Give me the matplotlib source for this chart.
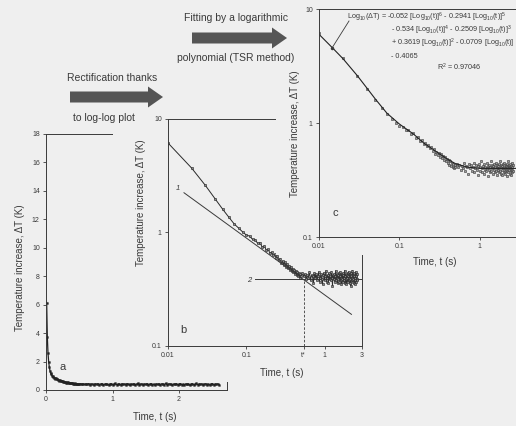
import matplotlib
matplotlib.use('Agg')
import matplotlib.pyplot as plt
from matplotlib.patches import Rectangle, FancyArrow

plt.rcParams['font.family'] = ['Liberation Sans', 'DejaVu Sans']
plt.rcParams['mathtext.fontset'] = 'custom'
plt.rcParams['mathtext.rm'] = 'Liberation Sans'
plt.rcParams['mathtext.it'] = 'Liberation Sans:italic'

t_early = [0.01, 0.02, 0.03, 0.04, 0.05, 0.06, 0.07, 0.08, 0.09, 0.10]
dT_early = [6.15, 3.70, 2.60, 1.98, 1.60, 1.36, 1.19, 1.09, 1.01, 0.95]

t_mid = [0.11, 0.12, 0.13, 0.14, 0.15, 0.16, 0.17, 0.18, 0.19, 0.20,
         0.21, 0.22, 0.23, 0.24, 0.25, 0.26, 0.27, 0.28, 0.29, 0.30,
         0.31, 0.32, 0.33, 0.34, 0.35, 0.36, 0.37, 0.38, 0.39, 0.40,
         0.41, 0.42, 0.43, 0.44, 0.45, 0.46, 0.47, 0.48, 0.49, 0.50]
dT_mid = [0.93, 0.87, 0.86, 0.80, 0.81, 0.74, 0.76, 0.70, 0.71, 0.66,
          0.67, 0.63, 0.64, 0.60, 0.62, 0.57, 0.59, 0.54, 0.56, 0.52,
          0.55, 0.50, 0.53, 0.49, 0.51, 0.47, 0.50, 0.46, 0.48, 0.45,
          0.47, 0.43, 0.46, 0.42, 0.45, 0.41, 0.44, 0.40, 0.43, 0.41]

t_plat = [0.52, 0.54, 0.56, 0.58, 0.60, 0.62, 0.64, 0.66, 0.68, 0.70, 0.72, 0.74, 0.76, 0.78, 0.80,
          0.82, 0.84, 0.86, 0.88, 0.90, 0.92, 0.94, 0.96, 0.98, 1.00, 1.02, 1.04, 1.06, 1.08, 1.10,
          1.12, 1.14, 1.16, 1.18, 1.20, 1.22, 1.24, 1.26, 1.28, 1.30, 1.32, 1.34, 1.36, 1.38, 1.40,
          1.42, 1.44, 1.46, 1.48, 1.50, 1.52, 1.54, 1.56, 1.58, 1.60, 1.62, 1.64, 1.66, 1.68, 1.70,
          1.72, 1.74, 1.76, 1.78, 1.80, 1.82, 1.84, 1.86, 1.88, 1.90, 1.92, 1.94, 1.96, 1.98, 2.00,
          2.02, 2.04, 2.06, 2.08, 2.10, 2.12, 2.14, 2.16, 2.18, 2.20, 2.22, 2.24, 2.26, 2.28, 2.30,
          2.32, 2.34, 2.36, 2.38, 2.40, 2.42, 2.44, 2.46, 2.48, 2.50, 2.52, 2.54, 2.56, 2.58, 2.60]
dT_plat = [0.44, 0.41, 0.43, 0.39, 0.42, 0.40, 0.45, 0.38, 0.42, 0.41, 0.36, 0.44, 0.40, 0.43, 0.38,
           0.41, 0.45, 0.37, 0.40, 0.43, 0.39, 0.35, 0.42, 0.44, 0.38, 0.41, 0.46, 0.37, 0.40, 0.42,
           0.36, 0.44, 0.39, 0.41, 0.38, 0.45, 0.40, 0.34, 0.42, 0.39, 0.43, 0.37, 0.41, 0.46, 0.38,
           0.40, 0.43, 0.36, 0.42, 0.39, 0.44, 0.37, 0.41, 0.45, 0.38, 0.40, 0.35, 0.43, 0.39, 0.42,
           0.37, 0.44, 0.40, 0.38, 0.46, 0.36, 0.41, 0.43, 0.39, 0.35, 0.42, 0.40, 0.44, 0.37, 0.41,
           0.45, 0.38, 0.40, 0.36, 0.43, 0.39, 0.42, 0.34, 0.41, 0.44, 0.38, 0.40, 0.46, 0.37, 0.42,
           0.39, 0.43, 0.36, 0.41, 0.44, 0.38, 0.40, 0.35, 0.42, 0.45, 0.37, 0.41, 0.39, 0.43, 0.38]

t = t_early + t_mid + t_plat
dT = dT_early + dT_mid + dT_plat

# logarithmic polynomial fit drawn in panel c
t_fit = [0.01, 0.015, 0.02, 0.03, 0.04, 0.05, 0.07, 0.1, 0.15, 0.2, 0.3, 0.4,
         0.5, 0.7, 1.0, 1.5, 2.0, 3.0]
dT_fit = [6.0, 4.5, 3.65, 2.6, 2.0, 1.63, 1.22, 0.98, 0.80, 0.67, 0.55, 0.48,
          0.44, 0.41, 0.40, 0.40, 0.40, 0.40]

# straight lines of panel b
line1_t = [0.016, 2.2]
line1_dT = [2.24, 0.19]
t_star = 0.54
dT_plateau = 0.39
line2_t = [0.13, 3.0]

eq_lines = [r'Log$_{10}$(ΔT) = -0.052 [Log$_{10}$(t)]$^{6}$ - 0.2941 [Log$_{10}$(t)]$^{5}$',
            r'- 0.534 [Log$_{10}$(t)]$^{4}$ - 0.2509 [Log$_{10}$(t)]$^{3}$',
            r'+ 0.3619 [Log$_{10}$(t)]$^{2}$ - 0.0709 [Log$_{10}$(t)]',
            '- 0.4065']
r2_text = r'R$^{2}$ = 0.97046'

W, H = 516, 426
INK = '#3a3a3a'
BG = '#efefef'
YLAB = 'Temperature increase, ΔT (K)'
XLAB = 'Time, t (s)'

fig = plt.figure(figsize=(W / 100, H / 100), dpi=100, facecolor=BG)


def box(l, t, r, b):
    # pixel box -> figure fraction rect
    return [l / W, 1 - b / H, (r - l) / W, (b - t) / H]


def style(ax):
    ax.set_facecolor('none')
    for s in ax.spines.values():
        s.set_color(INK)
        s.set_linewidth(0.7)
    ax.tick_params(direction='out', length=2.5, width=0.6, color=INK,
                   labelsize=5, labelcolor=INK, pad=2)
    ax.minorticks_off()


def cover(l, t, r, b, z):
    fig.add_artist(Rectangle((l / W, 1 - b / H), (r - l) / W, (b - t) / H,
                             transform=fig.transFigure, facecolor=BG,
                             edgecolor='none', zorder=z))


# panel a: linear
axa = fig.add_axes(box(46, 134, 227, 390), zorder=1)
axa.plot(t, dT, color='#222', marker='s', ms=1.3, mew=0.3, lw=0.9)
axa.set_xlim(0, 2.72)
axa.set_ylim(0, 18)
axa.set_xticks([0, 1, 2])
axa.set_yticks(range(0, 19, 2))
style(axa)

# panel b: log-log
cover(113, 100, 372, 382, 1.5)
axb = fig.add_axes(box(168, 119, 362, 346), zorder=2)
axb.set_xscale('log')
axb.set_yscale('log')
axb.plot(t, dT, ls='-', lw=0.7, color='#2a2a2a', marker='s', ms=1.6,
         mfc='#8a8a8a', mec='#222', mew=0.4, zorder=2)
axb.plot(line1_t, line1_dT, color=INK, lw=0.7, zorder=3)
axb.plot(line2_t, [dT_plateau, dT_plateau], color=INK, lw=0.7, zorder=1)
axb.plot([t_star, t_star], [0.1, dT_plateau], color=INK, lw=0.6, ls=(0, (3, 2)))
axb.set_xlim(0.01, 3)
axb.set_ylim(0.1, 10)
style(axb)
axb.set_xticks([0.01, 0.1, t_star, 1, 3], ['0.01', '0.1', 't*', '1', '3'])
axb.set_yticks([0.1, 1, 10], ['0.1', '1', '10'])
axb.minorticks_off()

# panel c: log-log with TSR fit
cover(276, 0, W, 255, 2.5)
axc = fig.add_axes(box(319, 9, 518, 237), zorder=3)
axc.set_xscale('log')
axc.set_yscale('log')
axc.plot(t, dT, ls='none', marker='s', ms=1.8, mfc='#a0a0a0',
         mec='#333', mew=0.4)
axc.plot(t_fit, dT_fit, color='#222', lw=0.8)
axc.set_xlim(0.01, 3)
axc.set_ylim(0.1, 10)
style(axc)
axc.set_xticks([0.01, 0.1, 1, 3], ['0.01', '0.1', '1', '3'])
axc.set_yticks([0.1, 1, 10], ['0.1', '1', '10'])
axc.minorticks_off()

# overlay in pixel units for arrows and free text
ov = fig.add_axes([0, 0, 1, 1], zorder=5)
ov.set_xlim(0, W)
ov.set_ylim(H, 0)
ov.axis('off')
ov.patch.set_alpha(0)

for x0, y0, dx in [(192, 38, 95), (70, 97, 93)]:
    ov.add_patch(FancyArrow(x0, y0, dx, 0, width=11, head_width=21,
                            head_length=15, length_includes_head=True,
                            color='#555555', lw=0))

kw = dict(ha='center', va='center', color=INK)
ov.text(236, 18, 'Fitting by a logarithmic', fontsize=7.5, **kw)
ov.text(236, 58, 'polynomial (TSR method)', fontsize=7.5, **kw)
ov.text(112, 78, 'Rectification thanks', fontsize=7.5, **kw)
ov.text(104, 118, 'to log-log plot', fontsize=7.5, **kw)

ov.text(20, 268, YLAB, rotation=90, fontsize=7, **kw)
ov.text(155, 417, XLAB, fontsize=7, **kw)
ov.text(141, 203, YLAB, rotation=90, fontsize=7, **kw)
ov.text(282, 373, XLAB, fontsize=7, **kw)
ov.text(295, 134, YLAB, rotation=90, fontsize=7, **kw)
ov.text(435, 262, XLAB, fontsize=7, **kw)

ov.text(63, 367, 'a', fontsize=8, **kw)
ov.text(183, 330, 'b', fontsize=8, **kw)
ov.text(335, 213, 'c', fontsize=8, **kw)
ov.text(178, 188, '1', fontsize=5.5, style='italic', **kw)
ov.text(249, 280, '2', fontsize=5.5, style='italic', **kw)

ov.plot([349, 332], [21, 48], color=INK, lw=0.6)
ov.plot([332], [48], marker='o', ms=1.5, color=INK)
ov.text(347, 17, eq_lines[0], fontsize=5.2, ha='left', va='center', color=INK)
for i, s in enumerate(eq_lines[1:]):
    ov.text(391, 30 + 13 * i, s, fontsize=5.2, ha='left', va='center', color=INK)
ov.text(437, 67, r2_text, fontsize=5.2, ha='left', va='center', color=INK)

fig.savefig('out.png', dpi=100, facecolor=BG)
